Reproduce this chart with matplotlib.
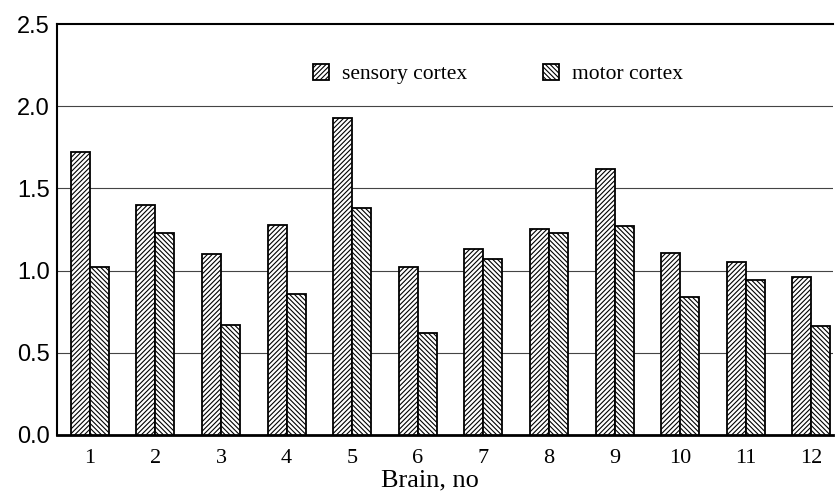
import matplotlib
matplotlib.use("Agg")
import matplotlib.pyplot as plt
import numpy as np

brains = [str(i) for i in range(1, 13)]
sensory = [1.72, 1.40, 1.10, 1.28, 1.93, 1.02, 1.13, 1.25, 1.62, 1.11, 1.05, 0.96]
motor = [1.02, 1.23, 0.67, 0.86, 1.38, 0.62, 1.07, 1.23, 1.27, 0.84, 0.94, 0.66]
yticks = [0.0, 0.5, 1.0, 1.5, 2.0, 2.5]

plt.rcParams['hatch.linewidth'] = 0.8
fig = plt.figure(figsize=(8.35, 4.96), dpi=100)
ax = fig.add_axes([0.0683, 0.123, 0.9293, 0.8286])

x = np.arange(1, len(brains) + 1)
w = 0.29
ax.bar(x - w / 2, sensory, w, facecolor='white', edgecolor='black', hatch='///////',
       linewidth=1.3, label='sensory cortex', zorder=3)
ax.bar(x + w / 2, motor, w, facecolor='white', edgecolor='black', hatch='\\\\\\\\\\\\\\',
       linewidth=1.3, label='motor cortex', zorder=3)

ax.set_ylim(0, 2.5)
ax.set_xlim(0.5, 12.33)
ax.set_yticks(yticks)
ax.set_yticklabels([f"{v:.1f}" for v in yticks], fontsize=17, family='Liberation Sans')
ax.set_xticks(x)
ax.set_xticklabels(brains, fontsize=16, family='Liberation Serif')
ax.tick_params(axis='both', length=0)
ax.tick_params(axis='x', pad=10)
ax.tick_params(axis='y', pad=5)
for v in [0.5, 1.0, 1.5, 2.0]:
    ax.axhline(v, color='#444444', linewidth=0.8, zorder=1)

ax.spines['right'].set_visible(False)
ax.spines['top'].set_linewidth(1.5)
ax.spines['left'].set_linewidth(1.5)
ax.spines['bottom'].set_linewidth(2.0)

ax.set_xlabel('Brain, no', fontsize=19, family='Liberation Serif', va='top')
ax.xaxis.set_label_coords(0.48, -0.083)

leg = ax.legend(loc='upper center', bbox_to_anchor=(0.568, 0.95), ncol=2, frameon=False,
                prop={'family': 'Liberation Serif', 'size': 15.5}, handlelength=0.75,
                handleheight=0.75, columnspacing=3.5, handletextpad=0.6)

fig.savefig('out.png', dpi=100)
